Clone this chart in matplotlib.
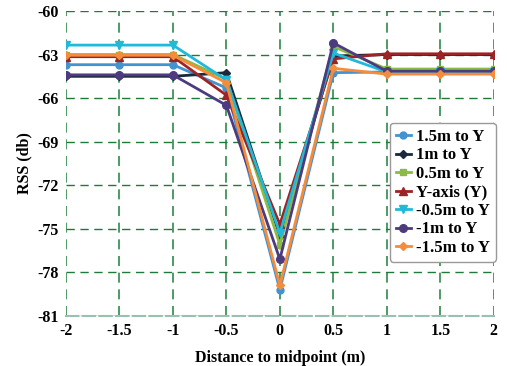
import matplotlib
matplotlib.use("Agg")
import matplotlib.pyplot as plt

x = [-2, -1.5, -1, -0.5, 0, 0.5, 1, 1.5, 2]
s_15 = [-63.7, -63.7, -63.7, -65.3, -79.2, -64.25, -64.2, -64.2, -64.2]
s_1 = [-64.5, -64.5, -64.5, -64.25, -75.5, -63.1, -63.0, -63.0, -63.0]
s_05 = [-63.0, -63.0, -63.0, -64.7, -76.1, -62.45, -64.0, -64.0, -64.0]
s_y = [-63.15, -63.15, -63.15, -65.8, -74.7, -63.3, -62.95, -62.95, -62.95]
s_m05 = [-62.35, -62.35, -62.35, -64.75, -75.3, -62.9, -64.2, -64.2, -64.2]
s_m1 = [-64.4, -64.4, -64.4, -66.5, -77.1, -62.2, -64.15, -64.15, -64.15]
s_m15 = [-63.05, -63.05, -63.05, -64.95, -78.9, -63.95, -64.35, -64.35, -64.35]

labels = ["1.5m to Y", "1m to Y", "0.5m to Y", "Y-axis (Y)", "-0.5m to Y", "-1m to Y", "-1.5m to Y"]
series = [s_15, s_1, s_05, s_y, s_m05, s_m1, s_m15]
colors = ["#4393d1", "#1a2a3c", "#8bba45", "#9c2426", "#20b9d8", "#4d3b80", "#f58c3b"]
markers = ["o", "D", "s", "^", "v", "o", "D"]
msizes = [5, 4, 5, 5.5, 5.5, 5.5, 4.5]

xticks = [-2, -1.5, -1, -0.5, 0, 0.5, 1, 1.5, 2]
yticks = [-60, -63, -66, -69, -72, -75, -78, -81]

plt.rcParams['font.family'] = ['Liberation Serif', 'DejaVu Serif']
plt.rcParams['font.weight'] = 'bold'

fig = plt.figure(figsize=(5.07, 3.66), dpi=100)
ax = fig.add_axes([0.130, 0.137, 0.844, 0.833])

for ys, lab, c, m, ms in zip(series, labels, colors, markers, msizes):
    ax.plot(x, ys, color=c, marker=m, markersize=ms, linewidth=2, label=lab, zorder=3)

ax.set_xlim(-2, 2)
ax.set_ylim(-81, -60)
ax.set_xticks(xticks)
ax.set_xticklabels([("%g" % t) for t in xticks])
ax.set_yticks(yticks)
ax.set_yticklabels([str(t) for t in yticks])

ax.grid(True, axis='y', color='#1f7a3a', linestyle=(0, (6, 4)), linewidth=1)
ax.grid(True, axis='x', color='#2e8a4a', linestyle=(0, (6, 4)), linewidth=1.2)
for s in ['top', 'right', 'left']:
    ax.spines[s].set_visible(False)
ax.spines['bottom'].set_color('#9cc0b0')
ax.spines['bottom'].set_linestyle((0, (6, 2)))
ax.spines['bottom'].set_linewidth(1.5)
ax.tick_params(length=0, labelsize=11.5, pad=5)
for lbl in ax.get_xticklabels() + ax.get_yticklabels():
    lbl.set_fontweight('bold')

ax.set_xlabel("Distance to midpoint (m)", fontsize=11.5, fontweight='bold', labelpad=8)
ax.set_ylabel("RSS (db)", fontsize=11.5, fontweight='bold', labelpad=4)

leg = ax.legend(loc='center right', bbox_to_anchor=(1.012, 0.405), fontsize=12,
                frameon=True, fancybox=True, edgecolor='#999999', framealpha=1,
                handlelength=0.9, handletextpad=0.3, labelspacing=0.15, borderpad=0.35,
                borderaxespad=0.2)
for t in leg.get_texts():
    t.set_fontweight('bold')

fig.savefig("out.png", dpi=100)
